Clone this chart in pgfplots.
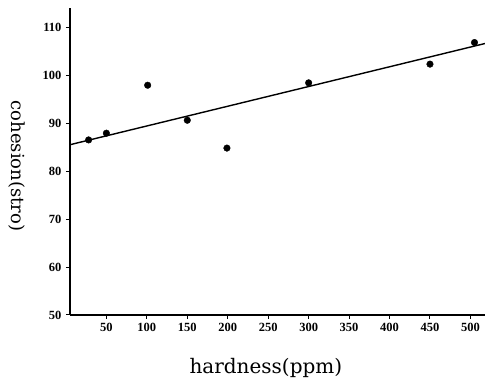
\documentclass[border=0pt]{standalone}
\usepackage{pgfplots}
\pgfplotsset{compat=1.18}
\usepackage{fontspec}
\setmainfont{Liberation Serif}
\newfontfamily\labelfont{DejaVu Serif}

\begin{document}
\begin{tikzpicture}
% fixed page frame around the axis box
\path[use as bounding box] (-70pt,-65pt) rectangle (415pt,315pt);
\begin{axis}[
  at={(0pt,0pt)}, anchor=south west,
  scale only axis,
  width=415pt, height=307pt,
  xmin=5, xmax=518,
  ymin=50, ymax=114,
  axis x line=bottom, axis y line=left,
  axis line style={-, line width=2pt, black},
  xtick={50,100,150,200,250,300,350,400,450,500},
  ytick={50,60,70,80,90,100,110},
  tick align=outside,
  major tick length=4pt,
  tick style={black, line width=1pt},
  xticklabel={\fontsize{12.5}{14}\selectfont\bfseries\pgfmathprintnumber[assume math mode=true]{\tick}},
  yticklabel={\fontsize{12.5}{14}\selectfont\bfseries\pgfmathprintnumber[assume math mode=true]{\tick}},
  xticklabel style={yshift=-1pt},
  yticklabel style={xshift=-1pt},
  xlabel={hardness(ppm)},
  ylabel={cohesion(stro)},
  xlabel style={font=\labelfont\fontsize{20}{24}\selectfont,
                at={(axis description cs:0.472,-0.189)}, anchor=base, inner sep=0pt},
  ylabel style={font=\labelfont\fontsize{18}{22}\selectfont,
                at={(axis description cs:-0.128,0.485)}, anchor=center,
                rotate=180, inner sep=0pt},
  clip=false,
]
% least-squares line
\addplot[black, line width=1.4pt, no marks] coordinates {(5,85.5) (518,106.6)};
% measured points
\addplot[only marks, mark=*, mark size=3.3pt, black] coordinates {
  (28,86.5) (50,87.9) (101,97.9) (150,90.6) (199,84.8)
  (300,98.4) (450,102.3) (505,106.8)
};
\end{axis}
\end{tikzpicture}
\end{document}
